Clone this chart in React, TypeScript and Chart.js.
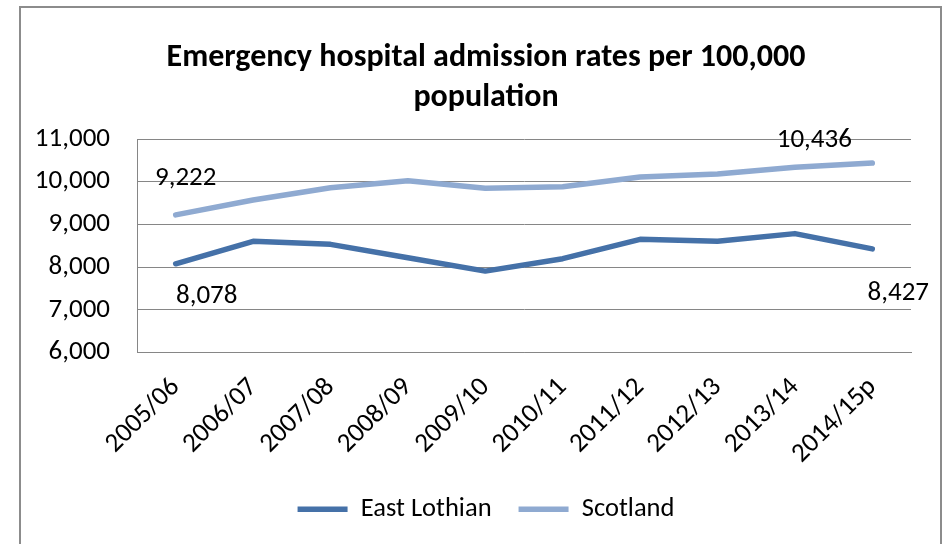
import React, { useEffect, useRef } from "react";
import { Chart, registerables } from "chart.js";

Chart.register(...registerables);

const years = [
  "2005/06", "2006/07", "2007/08", "2008/09", "2009/10",
  "2010/11", "2011/12", "2012/13", "2013/14", "2014/15p",
];
const eastLothian = [8078, 8603, 8533, 8220, 7906, 8197, 8650, 8603, 8784, 8427];
const scotland = [9222, 9570, 9859, 10024, 9845, 9883, 10110, 10180, 10336, 10436];
const yTicks = [6000, 7000, 8000, 9000, 10000, 11000];

const FONT = "Carlito, Calibri, Lato, 'Noto Sans', sans-serif";
const fmt = (v: number) => v.toLocaleString("en-US");

// Value labels placed next to the first and last point of each line
const pointLabels = [
  { dataset: 1, index: 0, dx: 10, dy: -37 },
  { dataset: 0, index: 0, dx: 31, dy: 32 },
  { dataset: 1, index: 9, dx: -58, dy: -23 },
  { dataset: 0, index: 9, dx: 26, dy: 44 },
];

const valueLabelPlugin = {
  id: "valueLabels",
  afterDatasetsDraw(chart: any) {
    const { ctx } = chart;
    ctx.save();
    ctx.font = `27px ${FONT}`;
    ctx.fillStyle = "#000";
    ctx.textAlign = "center";
    ctx.textBaseline = "middle";
    for (const l of pointLabels) {
      const el = chart.getDatasetMeta(l.dataset).data[l.index];
      const v = chart.data.datasets[l.dataset].data[l.index];
      ctx.fillText(fmt(v), el.x + l.dx, el.y + l.dy);
    }
    ctx.restore();
  },
};

export default function App() {
  const ref = useRef<HTMLCanvasElement>(null);

  useEffect(() => {
    if (!ref.current) return;
    const chart = new Chart(ref.current, {
      type: "line",
      data: {
        labels: years,
        datasets: [
          {
            label: "East Lothian",
            data: eastLothian,
            borderColor: "#4571A8",
            backgroundColor: "#4571A8",
            borderWidth: 5.5,
            pointRadius: 0,
            borderCapStyle: "round",
            borderJoinStyle: "round",
            tension: 0,
          },
          {
            label: "Scotland",
            data: scotland,
            borderColor: "#8FAAD1",
            backgroundColor: "#8FAAD1",
            borderWidth: 5.5,
            pointRadius: 0,
            borderCapStyle: "round",
            borderJoinStyle: "round",
            tension: 0,
          },
        ],
      },
      options: {
        animation: false,
        responsive: false,
        layout: { padding: { left: 30, right: 8, top: 0, bottom: 11.5 } },
        plugins: {
          title: {
            display: true,
            text: ["Emergency hospital admission rates per 100,000", "population"],
            color: "#000",
            font: { family: FONT, size: 32, weight: "bold", lineHeight: 1.25 },
            padding: { top: 38, bottom: 21 },
          },
          legend: {
            position: "bottom",
            labels: {
              usePointStyle: true,
              pointStyle: "line",
              pointStyleWidth: 50,
              boxHeight: 27,
              padding: 27,
              color: "#000",
              font: { family: FONT, size: 26.5 },
            },
          },
          tooltip: { enabled: false },
        },
        scales: {
          x: {
            offset: true,
            grid: { display: false, drawTicks: false },
            border: { display: true, color: "#868686", width: 1 },
            ticks: {
              minRotation: 45,
              maxRotation: 45,
              labelOffset: 0,
              padding: 19,
              color: "#000",
              font: { family: FONT, size: 27 },
            },
            afterFit(scale: any) {
              scale.height = 116.5;
            },
          },
          y: {
            min: 6000,
            max: 11000,
            afterBuildTicks(scale: any) {
              scale.ticks = yTicks.map((v) => ({ value: v }));
            },
            grid: { color: "#868686", lineWidth: 1, drawTicks: false },
            border: { display: true, color: "#868686", width: 1 },
            ticks: {
              padding: 27,
              color: "#000",
              font: { family: FONT, size: 27 },
              callback: (v: any) => fmt(Number(v)),
            },
            afterFit(scale: any) {
              scale.width = 107;
            },
          },
          // empty right-hand gutter so the plot ends short of the frame
          gutter: {
            type: "linear",
            position: "right",
            display: true,
            grid: { display: false, drawTicks: false },
            border: { display: false },
            ticks: { display: false },
            afterFit(scale: any) {
              scale.width = 31;
            },
          },
        },
      },
      plugins: [valueLabelPlugin],
    });
    return () => chart.destroy();
  }, []);

  return (
    <div
      style={{
        position: "fixed",
        left: 0,
        top: 0,
        width: 950,
        height: 544,
        overflow: "hidden",
        background: "#fff",
      }}
    >
      <div
        style={{
          position: "absolute",
          left: 19,
          top: 6,
          width: 919,
          height: 600,
          border: "2px solid #8C8C8C",
        }}
      />
      <canvas
        ref={ref}
        width={950}
        height={544}
        style={{ position: "absolute", left: 0, top: 0, width: 950, height: 544 }}
      />
    </div>
  );
}
